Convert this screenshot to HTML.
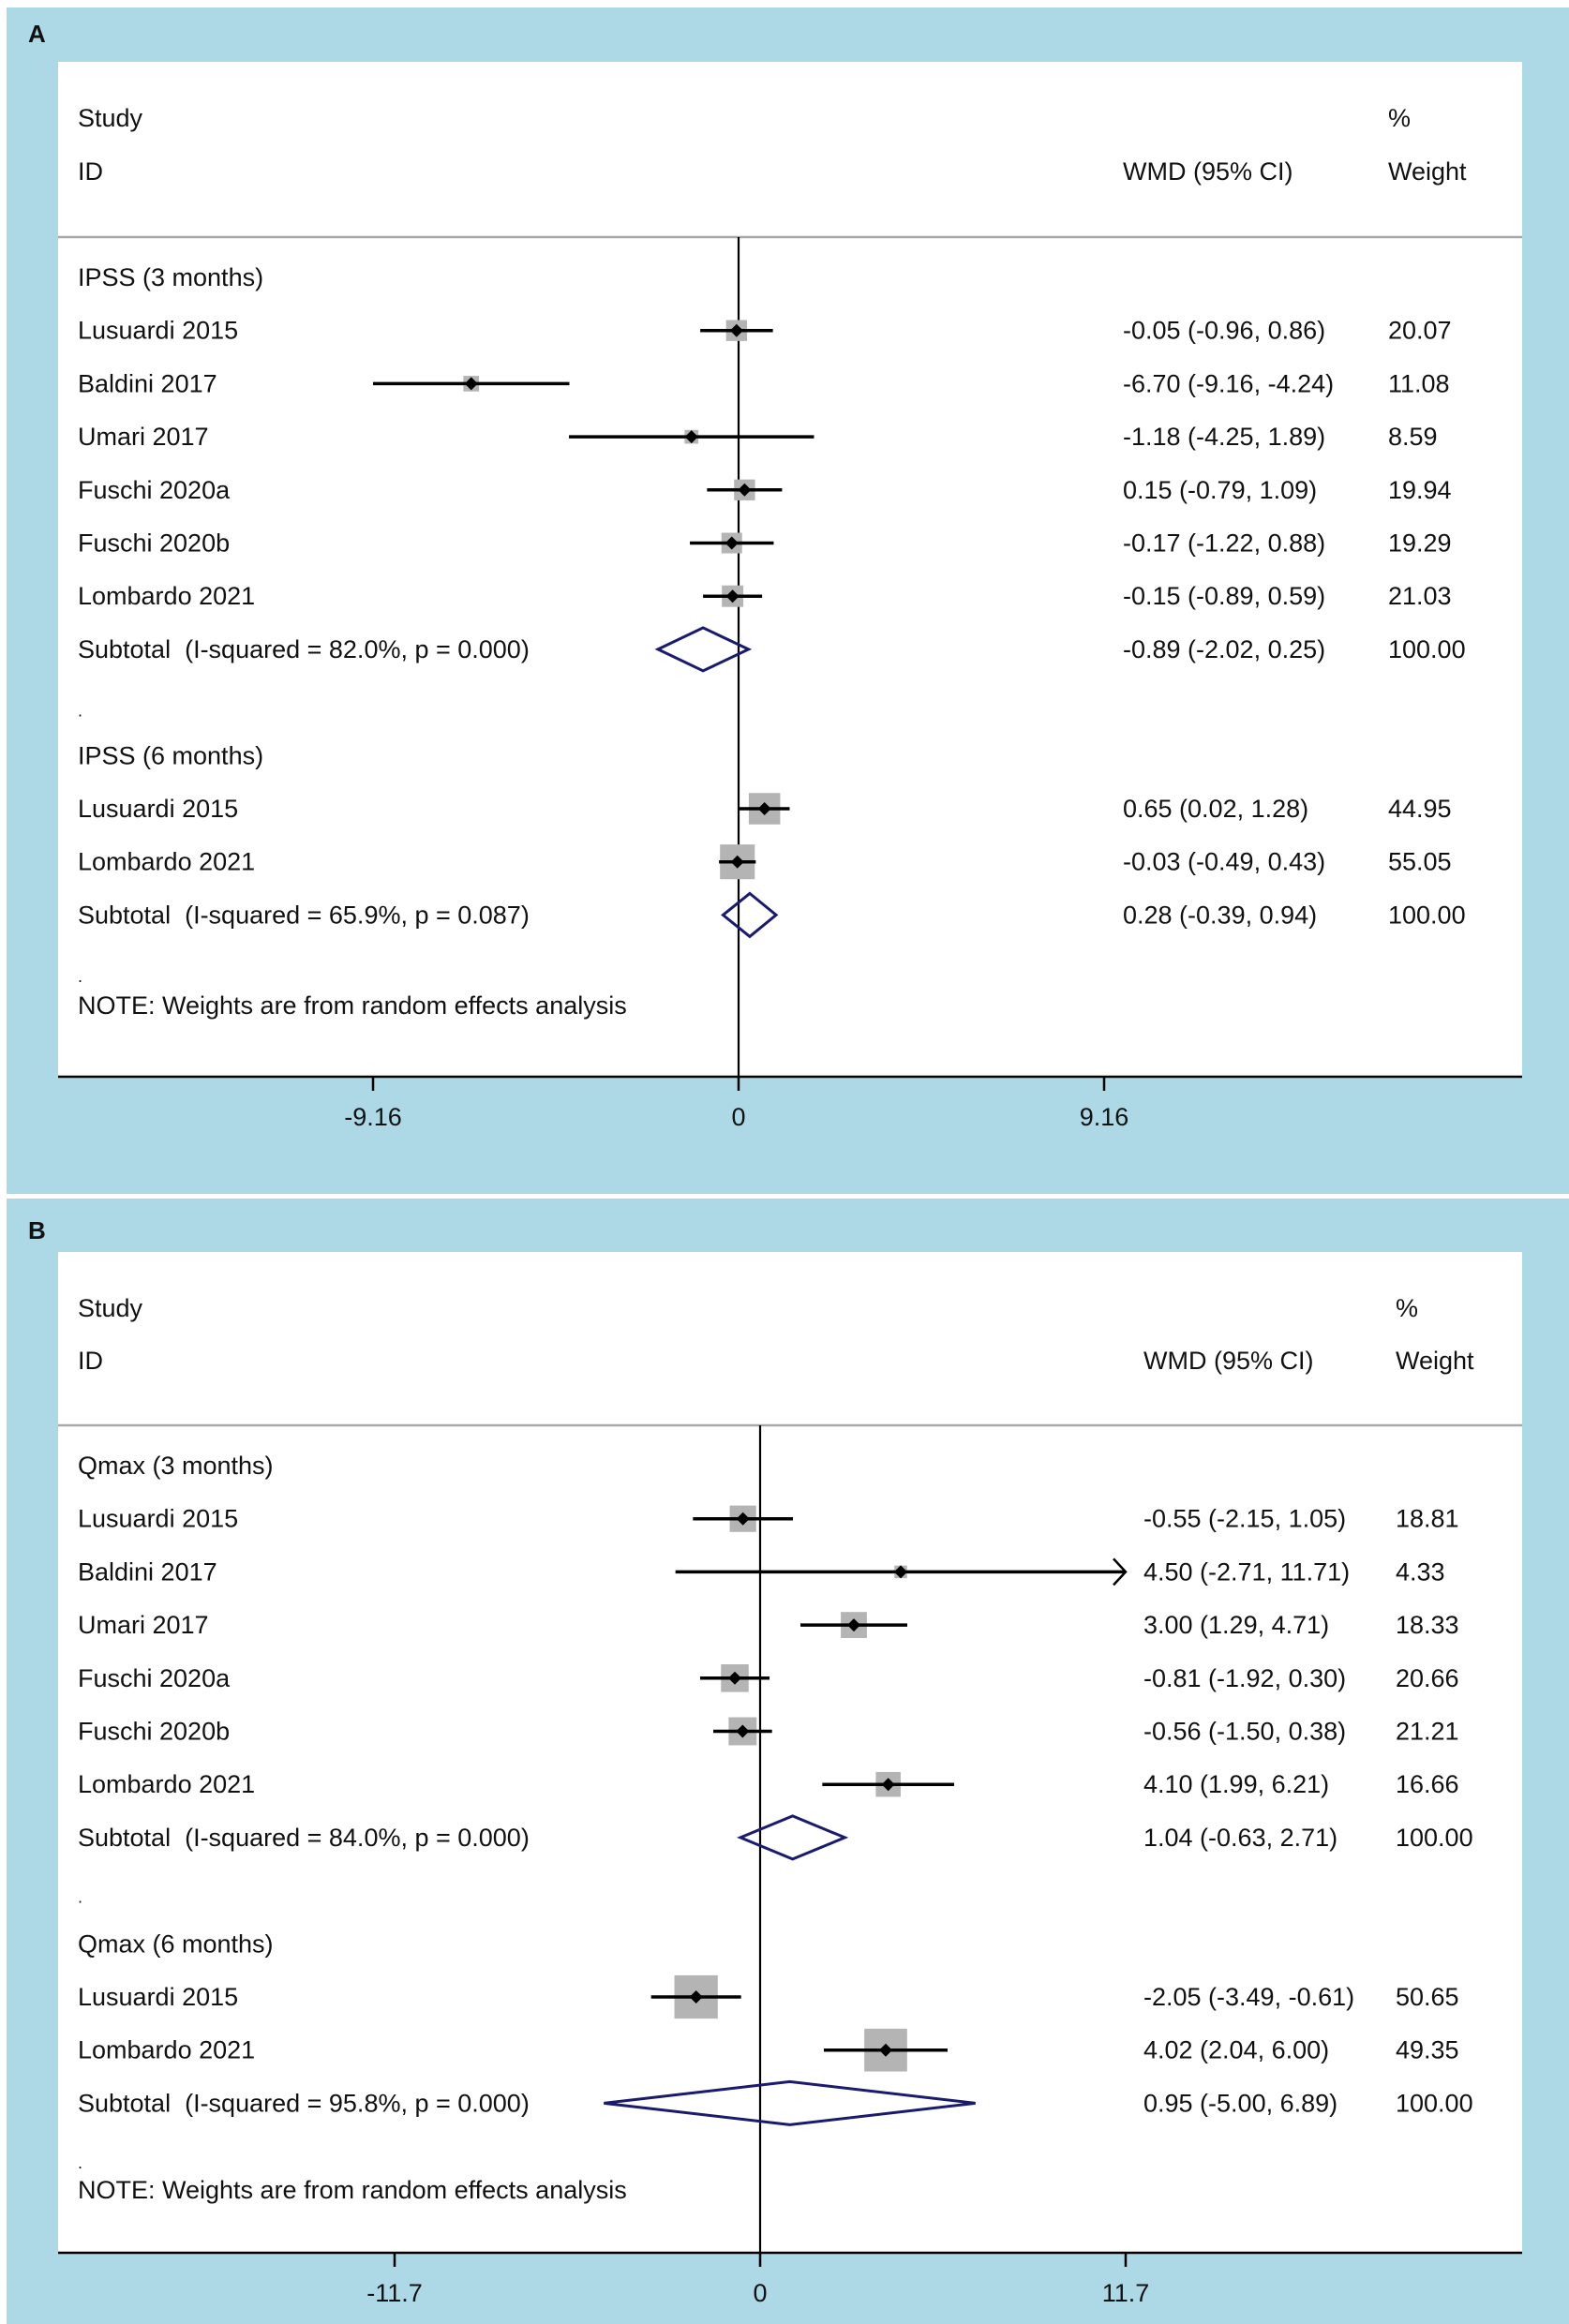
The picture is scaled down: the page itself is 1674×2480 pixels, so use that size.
<!DOCTYPE html>
<html><head><meta charset="utf-8">
<style>
html,body{margin:0;padding:0;background:#fff;}
svg{display:block;}
text{font-family:"Liberation Sans",Arial,sans-serif;fill:#111;white-space:pre;}
</style></head>
<body>
<svg id="fig" width="1674" height="2480" viewBox="0 0 1674 2480" xmlns="http://www.w3.org/2000/svg" xml:space="preserve">
<rect x="0" y="0" width="1674" height="2480" fill="#fff"/>
<rect x="7" y="8" width="1667" height="1266" fill="#add8e6"/>
<rect x="7" y="1279" width="1667" height="1201" fill="#add8e6"/>
<text x="30" y="45" font-size="26" font-weight="bold">A</text>
<text x="30" y="1322" font-size="26" font-weight="bold">B</text>
<g id="pa"></g>
<g id="pb"></g>
</svg>
<script>
// Panel A data (IPSS)
const aLabels = ["IPSS (3 months)","Lusuardi 2015","Baldini 2017","Umari 2017","Fuschi 2020a","Fuschi 2020b","Lombardo 2021","Subtotal  (I-squared = 82.0%, p = 0.000)",".","IPSS (6 months)","Lusuardi 2015","Lombardo 2021","Subtotal  (I-squared = 65.9%, p = 0.087)",".","NOTE: Weights are from random effects analysis"];
const aType = ["h","s","s","s","s","s","s","d","x","h","s","s","d","x","n"];
const aEst = [null,-0.05,-6.70,-1.18,0.15,-0.17,-0.15,-0.89,null,null,0.65,-0.03,0.28,null,null];
const aLo = [null,-0.96,-9.16,-4.25,-0.79,-1.22,-0.89,-2.02,null,null,0.02,-0.49,-0.39,null,null];
const aHi = [null,0.86,-4.24,1.89,1.09,0.88,0.59,0.25,null,null,1.28,0.43,0.94,null,null];
const aW = [null,20.07,11.08,8.59,19.94,19.29,21.03,100.00,null,null,44.95,55.05,100.00,null,null];
const aTicks = [-9.16,0,9.16];
const aTickLabels = ["-9.16","0","9.16"];

// Panel B data (Qmax)
const bLabels = ["Qmax (3 months)","Lusuardi 2015","Baldini 2017","Umari 2017","Fuschi 2020a","Fuschi 2020b","Lombardo 2021","Subtotal  (I-squared = 84.0%, p = 0.000)",".","Qmax (6 months)","Lusuardi 2015","Lombardo 2021","Subtotal  (I-squared = 95.8%, p = 0.000)",".","NOTE: Weights are from random effects analysis"];
const bType = ["h","s","s","s","s","s","s","d","x","h","s","s","d","x","n"];
const bEst = [null,-0.55,4.50,3.00,-0.81,-0.56,4.10,1.04,null,null,-2.05,4.02,0.95,null,null];
const bLo = [null,-2.15,-2.71,1.29,-1.92,-1.50,1.99,-0.63,null,null,-3.49,2.04,-5.00,null,null];
const bHi = [null,1.05,11.71,4.71,0.30,0.38,6.21,2.71,null,null,-0.61,6.00,6.89,null,null];
const bW = [null,18.81,4.33,18.33,20.66,21.21,16.66,100.00,null,null,50.65,49.35,100.00,null,null];
const bTicks = [-11.7,0,11.7];
const bTickLabels = ["-11.7","0","11.7"];

const NS="http://www.w3.org/2000/svg";
const FS=27;
function mk(parent,tag,attrs){const e=document.createElementNS(NS,tag);for(const k in attrs)e.setAttribute(k,attrs[k]);parent.appendChild(e);return e;}
function fmt(v){return v.toFixed(2);}

function draw(g,cfg,labels,types,est,lo,hi,w,ticks,tickLabels){
  const sx=v=>cfg.x0+v*cfg.pxu;
  const xmax=ticks[ticks.length-1], xmin=ticks[0];
  const box=mk(g,'rect',{x:62,y:cfg.top,width:1562,height:cfg.axisY-cfg.top,fill:'#fff'});
  
  
  const hl=mk(g,'line',{x1:62,x2:1624,y1:cfg.hline,y2:cfg.hline,stroke:'#a8a8a8','stroke-width':2.5});
  
  
  const hdr=[["Study",83,cfg.studyY,'study-header'],["ID",83,cfg.idY,'id-header'],["WMD (95% CI)",cfg.wmdX,cfg.idY,'wmd-header'],["%",cfg.wX,cfg.studyY,'percent-header'],["Weight",cfg.wX,cfg.idY,'weight-header']];
  hdr.forEach(h=>{const t=mk(g,'text',{x:h[1],y:h[2]+9,'font-size':FS});t.textContent=h[0];
    
    });
  const zl=mk(g,'line',{x1:cfg.x0,x2:cfg.x0,y1:cfg.hline,y2:cfg.axisY,stroke:'#000','stroke-width':2.2});
  
  
  labels.forEach((lab,i)=>{
    const y=cfg.row0+i*cfg.step + (types[i]==='n'?cfg.noteAdj:0) + (types[i]==='x'?cfg.dotAdj:0);
    const t=mk(g,'text',{x:83,y:y+9,'font-size':types[i]==='x'?18:FS});t.textContent=lab;
    
    
    if(types[i]==='s'||types[i]==='d'){
      const ct=mk(g,'text',{x:cfg.wmdX,y:y+9,'font-size':FS});ct.textContent=fmt(est[i])+" ("+fmt(lo[i])+", "+fmt(hi[i])+")";
      
      
      const wt=mk(g,'text',{x:cfg.wX,y:y+9,'font-size':FS});wt.textContent=fmt(w[i]);
      
      
    }
    if(types[i]==='s'){
      const side=cfg.k*Math.sqrt(w[i]);
      const b=mk(g,'rect',{x:sx(est[i])-side/2,y:y-side/2,width:side,height:side,fill:'#b4b4b4'});
      
      
      const l=Math.max(lo[i],xmin), h=Math.min(hi[i],xmax);
      const ln=mk(g,'line',{x1:sx(l),x2:sx(h),y1:y,y2:y,stroke:'#000','stroke-width':3.5});
      
      
      if(hi[i]>xmax){
        const ar=mk(g,'polyline',{points:`${sx(h)-13},${y-14} ${sx(h)},${y} ${sx(h)-13},${y+14}`,fill:'none',stroke:'#000','stroke-width':2.5});
        
        
      }
      const px=sx(est[i]);
      const d=mk(g,'polygon',{points:`${px-7},${y} ${px},${y-7} ${px+7},${y} ${px},${y+7}`,fill:'#000'});
      
      
    }
    if(types[i]==='d'){
      const dm=mk(g,'polygon',{points:`${sx(lo[i])},${y} ${sx(est[i])},${y-cfg.dh} ${sx(hi[i])},${y} ${sx(est[i])},${y+cfg.dh}`,fill:'none',stroke:'#1a1a6e','stroke-width':3});
      
      
    }
  });
  const ax=mk(g,'line',{x1:62,x2:1624,y1:cfg.axisY,y2:cfg.axisY,stroke:'#000','stroke-width':2.5});
  
  
  ticks.forEach((tv,j)=>{
    const tk=mk(g,'line',{x1:sx(tv),x2:sx(tv),y1:cfg.axisY,y2:cfg.axisY+15,stroke:'#000','stroke-width':2.5});
    
    
    const tl=mk(g,'text',{x:sx(tv),y:cfg.axisY+52,'font-size':FS,'text-anchor':'middle'});tl.textContent=tickLabels[j];
    
    
  });
}
draw(document.getElementById('pa'),{top:66,hline:253,studyY:126,idY:183,wmdX:1198,wX:1481,row0:296,step:56.7,noteAdj:-17,dotAdj:6,axisY:1149,x0:788,pxu:390/9.16,k:5,dh:23},aLabels,aType,aEst,aLo,aHi,aW,aTicks,aTickLabels);
draw(document.getElementById('pb'),{top:1336,hline:1521,studyY:1396,idY:1452,wmdX:1220,wX:1489,row0:1564,step:56.7,noteAdj:-21,dotAdj:4,axisY:2404,x0:811,pxu:390/11.7,k:6.5,dh:23},bLabels,bType,bEst,bLo,bHi,bW,bTicks,bTickLabels);
</script>
</body></html>
